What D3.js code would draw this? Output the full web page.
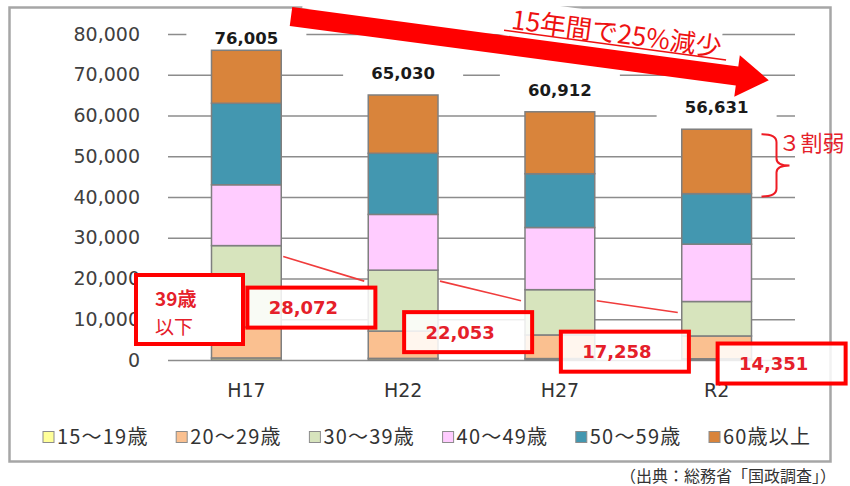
<!DOCTYPE html>
<html>
<head>
<meta charset="utf-8">
<script src="https://cdn.jsdelivr.net/npm/d3@7"></script>
<style>
  body { margin: 0; background: #fff; }
  svg { display: block; }
</style>
</head>
<body>
<svg id="chart" width="850" height="486"></svg>
<script>
// data (people)
const years = ["H17", "H22", "H27", "R2"];
const ageGroups = ["15〜19歳", "20〜29歳", "30〜39歳", "40〜49歳", "50〜59歳", "60歳以上"];
const age15_19 = [500, 400, 350, 300];
const age20_29 = [7600, 6700, 5800, 5600];
const age30_39 = [19972, 14953, 11108, 8451];
const age40_49 = [14933, 13677, 15254, 14080];
const age50_59 = [20000, 15000, 13200, 12400];
const age60plus = [13000, 14300, 15200, 15800];
const totals = [76005, 65030, 60912, 56631];
const under39 = [28072, 22053, 17258, 14351];
const yTicks = [0, 10000, 20000, 30000, 40000, 50000, 60000, 70000, 80000];
const groupColors = ["#FFFF99", "#FAC090", "#D7E4BD", "#FFCCFF", "#4397B0", "#D9843B"];

const series = [age15_19, age20_29, age30_39, age40_49, age50_59, age60plus];
const rows = years.map((yr, i) => {
    let r = { year: yr };
    ageGroups.forEach((g, k) => r[g] = series[k][i]);
    return r;
});

const svg = d3.select("#chart");
const jp = "'Noto Sans CJK JP', 'Noto Sans', sans-serif";
const latin = "'DejaVu Sans', Verdana, sans-serif";

// outer frame
svg.append("rect")
    .attr("x", 9.5).attr("y", 7.5)
    .attr("width", 821).attr("height", 454)
    .attr("fill", "#fff")
    .attr("stroke", "#a6a6a6")
    .attr("stroke-width", 2.5);

const plotLeft = 168, plotRight = 795;
const x = d3.scaleBand()
    .domain(years)
    .range([plotLeft, plotRight])
    .paddingInner(0.555)
    .paddingOuter(0.2775);
const y = d3.scaleLinear()
    .domain([0, 80000])
    .range([360, 34]);

// gridlines
svg.append("g")
    .attr("transform", `translate(${plotLeft},0)`)
    .call(d3.axisLeft(y).tickValues(yTicks).tickSize(-(plotRight - plotLeft)).tickFormat(""))
    .call(g => g.select(".domain").remove())
    .call(g => g.selectAll("line").attr("stroke", "#8c8c8c").attr("stroke-width", 1.5));

// y tick labels
svg.append("g")
    .attr("transform", `translate(${plotLeft},0)`)
    .call(d3.axisLeft(y).tickValues(yTicks).tickSize(0).tickPadding(28).tickFormat(d3.format(",")))
    .call(g => g.select(".domain").remove())
    .call(g => g.selectAll("text")
        .attr("font-family", latin).attr("font-size", 19).attr("fill", "#404040"));

// x labels
svg.append("g")
    .attr("transform", "translate(0,360)")
    .call(d3.axisBottom(x).tickSize(0).tickPadding(24))
    .call(g => g.select(".domain").remove())
    .call(g => g.selectAll("text")
        .attr("font-family", latin).attr("font-size", 19).attr("fill", "#333"));

// white boxes behind total labels (they hide the gridlines)
const labelY = (d) => Math.max(y(d) - 22, 38);
svg.append("g").selectAll("rect")
    .data(totals).enter()
    .append("rect")
    .attr("x", (d, i) => x(years[i]) + x.bandwidth() / 2 - 60)
    .attr("y", d => labelY(d) - 25)
    .attr("width", 120)
    .attr("height", 50)
    .attr("fill", "#fff");

// stacked bars
const stacked = d3.stack().keys(ageGroups)(rows);
svg.append("g").selectAll("g")
    .data(stacked).enter()
    .append("g")
    .attr("fill", (d, k) => groupColors[k])
    .selectAll("rect")
    .data(d => d).enter()
    .append("rect")
    .attr("x", d => x(d.data.year))
    .attr("y", d => y(d[1]))
    .attr("width", x.bandwidth())
    .attr("height", d => y(d[0]) - y(d[1]))
    .attr("stroke", "#7f7f7f")
    .attr("stroke-width", 1.5);

// total labels
svg.append("g").selectAll("text")
    .data(totals).enter()
    .append("text")
    .attr("x", (d, i) => x(years[i]) + x.bandwidth() / 2)
    .attr("y", d => labelY(d))
    .attr("dy", "0.36em")
    .attr("text-anchor", "middle")
    .attr("font-family", latin)
    .attr("font-weight", "bold")
    .attr("font-size", 16.5)
    .attr("fill", "#1a1a1a")
    .text(d => d3.format(",")(d));

// thin red connectors between the 39-and-under tops
svg.append("g").selectAll("line")
    .data(under39.slice(0, -1)).enter()
    .append("line")
    .attr("x1", (d, i) => x(years[i]) + x.bandwidth() + 2)
    .attr("y1", d => y(d) + 11)
    .attr("x2", (d, i) => x(years[i + 1]) - 4)
    .attr("y2", (d, i) => y(under39[i + 1]) + 11)
    .attr("stroke", "#f03c3c")
    .attr("stroke-width", 1.6);

// callout boxes for 39歳以下
const callouts = svg.append("g").selectAll("g")
    .data(under39).enter()
    .append("g")
    .attr("transform", (d, i) => `translate(${x(years[i]) + x.bandwidth() / 2 + 1},${y(d) + 62})`);
callouts.append("rect")
    .attr("x", 0).attr("y", -20)
    .attr("width", 128).attr("height", 40)
    .attr("fill", "#fff").attr("fill-opacity", 0.85)
    .attr("stroke", "#ff0000").attr("stroke-width", 4);
callouts.append("text")
    .attr("x", 56).attr("y", 0).attr("dy", "0.36em")
    .attr("text-anchor", "middle")
    .attr("font-family", latin).attr("font-weight", "bold").attr("font-size", 18)
    .attr("fill", "#e5202a")
    .text(d => d3.format(",")(d));

// 39歳以下 tag
const tag = svg.append("g").attr("transform", "translate(136,275)");
tag.append("rect")
    .attr("width", 107).attr("height", 69)
    .attr("fill", "#fff").attr("stroke", "#ff0000").attr("stroke-width", 4);
tag.append("text").attr("x", 19).attr("y", 31)
    .attr("font-family", jp).attr("font-weight", "bold").attr("font-size", 19)
    .attr("fill", "#e5202a").text("39歳");
tag.append("text").attr("x", 19).attr("y", 59)
    .attr("font-family", jp).attr("font-size", 19)
    .attr("fill", "#e5202a").text("以下");

// bracket on the R2 60歳以上 segment: ３割弱
const last = years.length - 1;
const bx = x(years[last]) + x.bandwidth() + 10;
const bTop = y(totals[last]) + 5;
const bBot = y(totals[last] - age60plus[last]) + 3;
const bMid = (bTop + bBot) / 2;
svg.append("path")
    .attr("d", `M${bx},${bTop} Q${bx + 15},${bTop} ${bx + 15},${bTop + 8} L${bx + 15},${bMid - 7}
               Q${bx + 15},${bMid} ${bx + 28},${bMid} Q${bx + 15},${bMid} ${bx + 15},${bMid + 7}
               L${bx + 15},${bBot - 8} Q${bx + 15},${bBot} ${bx},${bBot}`)
    .attr("fill", "none").attr("stroke", "#ee1c25").attr("stroke-width", 2);
svg.append("text")
    .attr("x", bx + 17).attr("y", bTop + 9).attr("dy", "0.36em")
    .attr("font-family", jp).attr("font-size", 22)
    .attr("fill", "#e5202a")
    .text("３割弱");

// big red arrow with the headline
const arrow = svg.append("g").attr("transform", "translate(291,16.5) rotate(7.6)");
arrow.append("rect")
    .attr("x", 10).attr("y", -46).attr("width", 420).attr("height", 36)
    .attr("fill", "#fff");
arrow.append("polygon")
    .attr("points", "0,-9.5 450,-9.5 450,-21 482,0 450,21 450,9.5 0,9.5")
    .attr("fill", "#ff0000");
arrow.append("text")
    .attr("x", 325).attr("y", -17)
    .attr("text-anchor", "middle")
    .attr("font-family", jp).attr("font-size", 26)
    .attr("fill", "#ee1111")
    .text("15年間で25%減少");
arrow.append("line")
    .attr("x1", 213).attr("x2", 437)
    .attr("y1", -14.5).attr("y2", -14.5)
    .attr("stroke", "#ee1111").attr("stroke-width", 1.5);

// legend
const legend = svg.append("g").selectAll("g")
    .data(ageGroups).enter()
    .append("g")
    .attr("transform", (d, i) => `translate(${43 + i * 133.2},437)`);
legend.append("rect")
    .attr("x", 0).attr("y", -5.5)
    .attr("width", 11).attr("height", 11)
    .attr("fill", (d, i) => groupColors[i])
    .attr("stroke", "#8c8c8c").attr("stroke-width", 1);
legend.append("text")
    .attr("x", 14).attr("y", 0).attr("dy", "0.36em")
    .attr("font-family", jp).attr("font-size", 20)
    .attr("letter-spacing", 1.2)
    .attr("fill", "#333")
    .text(d => d);

// source note
svg.append("text")
    .attr("x", 836).attr("y", 476).attr("dy", "0.36em")
    .attr("text-anchor", "end")
    .attr("font-family", jp).attr("font-size", 16)
    .attr("fill", "#333")
    .text("（出典：総務省「国政調査」）");
</script>
</body>
</html>
